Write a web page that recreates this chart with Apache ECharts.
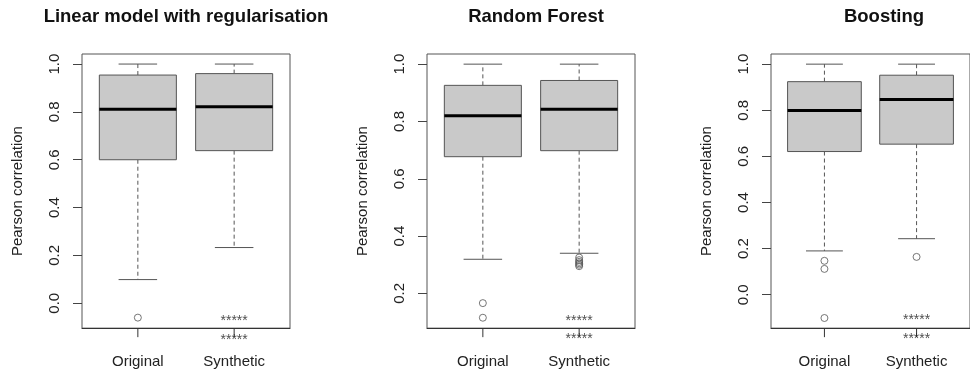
<!DOCTYPE html>
<html style="height: 100%">
<head>
    <script src="https://cdn.jsdelivr.net/npm/echarts@6.0.0/dist/echarts.min.js"></script>
</head>
<body style="height: 100%; margin: 0; background: #fff">
    <div id="main" style="width: 970px; height: 375px"></div>
    <script type="text/javascript">
    var chartDom = document.getElementById('main');
    var myChart = echarts.init(chartDom);

    var titles = ['Linear model with regularisation', 'Random Forest', 'Boosting'];
    var groups = ['Original', 'Synthetic'];

    // box stats: [lower whisker, Q1, median, Q3, upper whisker]
    var linearBox = [[0.099, 0.600, 0.811, 0.954, 1.0], [0.233, 0.638, 0.822, 0.960, 1.0]];
    var forestBox = [[0.319, 0.677, 0.820, 0.926, 1.0], [0.340, 0.698, 0.843, 0.943, 1.0]];
    var boostBox  = [[0.190, 0.621, 0.799, 0.924, 1.0], [0.243, 0.653, 0.847, 0.952, 1.0]];

    // outliers: [group, value]
    var linearOut = [[1, -0.060]];
    var forestOut = [[1, 0.166], [1, 0.115], [2, 0.325], [2, 0.316], [2, 0.310], [2, 0.305], [2, 0.300], [2, 0.295]];
    var boostOut  = [[1, 0.147], [1, 0.112], [1, -0.101], [2, 0.164]];

    // significance stars under Synthetic
    var linearStars = [[2, -0.057], [2, -0.136]];
    var forestStars = [[2, 0.1185], [2, 0.053]];
    var boostStars  = [[2, -0.094], [2, -0.175]];

    var yRanges = [[-0.104, 1.042], [0.0786, 1.0354], [-0.145, 1.044]];
    var yTicks = [[0, 0.2, 0.4, 0.6, 0.8, 1.0], [0.2, 0.4, 0.6, 0.8, 1.0], [0, 0.2, 0.4, 0.6, 0.8, 1.0]];
    var gridLefts = [82, 427, 771];
    var titleX = [186, 536, 884];

    var boxes = [linearBox, forestBox, boostBox];
    var outs = [linearOut, forestOut, boostOut];
    var stars = [linearStars, forestStars, boostStars];

    var font = 'Liberation Sans, Arial, Helvetica, sans-serif';

    function renderBox(params, api) {
        var x = api.value(0);
        var c = api.coord([x, api.value(3)]);
        var cx = c[0];
        var lo = api.coord([x, api.value(1)])[1];
        var q1 = api.coord([x, api.value(2)])[1];
        var med = c[1];
        var q3 = api.coord([x, api.value(4)])[1];
        var hi = api.coord([x, api.value(5)])[1];
        var halfW = api.size([0.8, 0])[0] / 2;
        var capW = halfW / 2;
        var bottom = params.coordSys.y + params.coordSys.height;
        var thin = { stroke: '#555', lineWidth: 1 };
        var dashed = { stroke: '#555', lineWidth: 1, lineDash: [4, 3] };
        return {
            type: 'group',
            children: [
                { type: 'line', shape: { x1: cx, y1: q3, x2: cx, y2: hi }, style: dashed },
                { type: 'line', shape: { x1: cx, y1: q1, x2: cx, y2: lo }, style: dashed },
                { type: 'line', shape: { x1: cx - capW, y1: hi, x2: cx + capW, y2: hi }, style: thin },
                { type: 'line', shape: { x1: cx - capW, y1: lo, x2: cx + capW, y2: lo }, style: thin },
                { type: 'rect', shape: { x: cx - halfW, y: q3, width: halfW * 2, height: q1 - q3 },
                  style: { fill: '#c9c9c9', stroke: '#555', lineWidth: 1 } },
                { type: 'line', shape: { x1: cx - halfW, y1: med, x2: cx + halfW, y2: med },
                  style: { stroke: '#000', lineWidth: 3 } },
                // group tick under the x axis
                { type: 'line', shape: { x1: cx, y1: bottom, x2: cx, y2: bottom + 9 },
                  style: { stroke: '#333', lineWidth: 1 } }
            ]
        };
    }

    var grid = [], xAxis = [], yAxis = [], series = [], graphic = [];
    for (var i = 0; i < 3; i++) {
        grid.push({ left: gridLefts[i], top: 54, width: 208, height: 282,
                    show: true, borderColor: '#555', borderWidth: 1 });
        xAxis.push({
            gridIndex: i, type: 'value', min: 0.42, max: 2.58,
            axisLine: { show: true, onZero: false, lineStyle: { color: '#333' } },
            splitLine: { show: false },
            axisTick: { show: false },
            axisLabel: { customValues: [1, 2], margin: 21, fontSize: 15, fontFamily: font, color: '#222',
                         formatter: function (v) { return groups[Math.round(v) - 1]; } }
        });
        yAxis.push({
            gridIndex: i, type: 'value', min: yRanges[i][0], max: yRanges[i][1],
            name: 'Pearson correlation', nameLocation: 'middle', nameGap: 51,
            nameTextStyle: { fontSize: 15, fontFamily: font, color: '#222' },
            axisLine: { show: false, onZero: false }, splitLine: { show: false },
            axisTick: { show: true, length: 9, customValues: yTicks[i], lineStyle: { color: '#444' } },
            axisLabel: { customValues: yTicks[i], rotate: 90, margin: 14, fontSize: 15, fontFamily: font, color: '#222',
                         formatter: function (v) { return v.toFixed(1); } }
        });
        series.push({
            type: 'custom', xAxisIndex: i, yAxisIndex: i,
            renderItem: renderBox, clip: false,
            encode: { x: 0, y: [1, 2, 3, 4, 5] },
            data: boxes[i].map(function (b, j) { return [j + 1].concat(b); }),
            silent: true
        });
        series.push({
            type: 'scatter', xAxisIndex: i, yAxisIndex: i,
            symbol: 'circle', symbolSize: 7,
            itemStyle: { color: 'rgba(0,0,0,0)', borderColor: '#555', borderWidth: 1 },
            data: outs[i], silent: true
        });
        series.push({
            type: 'scatter', xAxisIndex: i, yAxisIndex: i, clip: false,
            symbolSize: 0,
            label: { show: true, position: 'inside', offset: [0, 4], formatter: '*****',
                     fontSize: 14, fontFamily: font, color: '#222' },
            data: stars[i], silent: true
        });
        graphic.push({
            type: 'text', x: titleX[i], y: 17,
            style: { text: titles[i], textAlign: 'center', textVerticalAlign: 'middle',
                     font: 'bold 18.5px ' + font, fill: '#111' }
        });
    }

    var option = {
        backgroundColor: '#fff',
        animation: false,
        grid: grid,
        xAxis: xAxis,
        yAxis: yAxis,
        series: series,
        graphic: graphic
    };

    myChart.setOption(option);
    </script>
</body>
</html>
